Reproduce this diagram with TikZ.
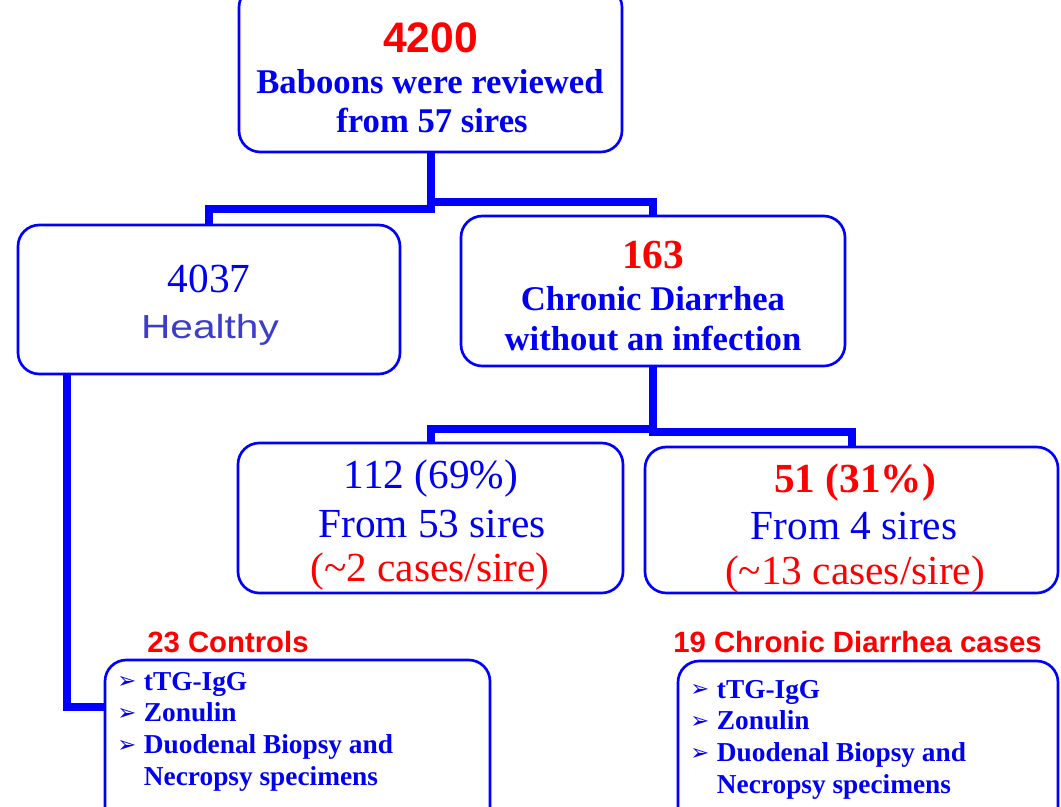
\documentclass[tikz,border=0pt]{standalone}
\usepackage{fontspec}
\setmainfont{Liberation Serif}
\setsansfont{Liberation Sans}
\newfontfamily\bulfont{DejaVu Sans}
\usetikzlibrary{positioning, calc}
\definecolor{boxblue}{RGB}{0,0,255}
\definecolor{textblue}{RGB}{0,0,240}
\definecolor{softblue}{RGB}{60,60,205}
\definecolor{hired}{RGB}{255,0,0}
\newcommand{\fsz}[1]{\fontsize{#1}{#1}\selectfont}
\newcommand{\lstitem}[1]{\makebox[20pt][l]{\raisebox{1pt}{\bulfont\fsz{17}➢}}#1}
\newcommand{\lstcont}[1]{\makebox[20pt][l]{}#1}
\tikzset{
	box/.style={draw=boxblue, line width=2pt, rounded corners=16pt, inner sep=0pt}, % rounded frames
	conn/.style={draw=boxblue, line width=6pt}, % thick tree lines
	txt/.style={anchor=base, inner sep=0pt, text=textblue}, % one line of text
	redtxt/.style={txt, text=hired},
	lst/.style={anchor=base west, inner sep=0pt, text=textblue, font=\bfseries\fsz{20.5}},
}

\begin{document}
\begin{tikzpicture}[x=0.75pt, y=-0.75pt]
	\useasboundingbox (0,0) rectangle (1061,807);

	% frames
	\node[box, minimum width=287.25pt, minimum height=124.5pt] (top) at (430.5,69) {};
	\node[box, minimum width=286.5pt, minimum height=111.75pt] (healthy) at (209,299.5) {};
	\node[box, minimum width=288pt, minimum height=112.5pt] (chronic) at (653,291) {};
	\node[box, minimum width=288.75pt, minimum height=112.5pt] (many_sires) at (430.5,518) {};
	\node[box, minimum width=309.75pt, minimum height=109.5pt] (few_sires) at (851.5,520) {};
	\node[box, minimum width=288.75pt, minimum height=135pt] (controls) at (297.5,750) {};
	\node[box, minimum width=285pt, minimum height=134.25pt] (cases) at (868,750.5) {};

	% tree lines
	\draw[conn] (top.south) -- ++(0,56) -| (healthy.north);
	\draw[conn] (top.south) -- ++(0,49) -| (chronic.north);
	\draw[conn] (chronic.south) -- ++(0,62) -| (many_sires.north);
	\draw[conn] (chronic.south) -- ++(0,65) -| (few_sires.north);
	\draw[conn] ($(healthy.south west)+(50,0)$) |- ($(controls.north west)+(0,48)$);

	% texts
	\node[redtxt, font=\sffamily\bfseries\fsz{32}] (top_num) at (430.5,52) {4200};
	\node[txt, font=\bfseries\fsz{26}] (top_l1) at (430,93) {Baboons were reviewed};
	\node[txt, font=\bfseries\fsz{26}] (top_l2) at (432,132) {from 57 sires};

	\node[txt, font=\fsz{31}] (healthy_num) at (209,292) {4037};
	\node[txt, text=softblue, font=\sffamily\fsz{25}] (healthy_l1) at (210,338) {\scalebox{1.22}[1]{Healthy}};

	\node[redtxt, font=\bfseries\fsz{31}] (chronic_num) at (653,268) {163};
	\node[txt, font=\bfseries\fsz{26}] (chronic_l1) at (653,310) {Chronic Diarrhea};
	\node[txt, font=\bfseries\fsz{26}] (chronic_l2) at (653,350) {without an infection};

	\node[txt, font=\fsz{31}] (many_l1) at (431,488) {112 (69\%)};
	\node[txt, font=\fsz{31}] (many_l2) at (432,537) {From 53 sires};
	\node[redtxt, font=\fsz{31}] (many_l3) at (430,581) {(\textasciitilde2 cases/sire)};

	\node[redtxt, font=\bfseries\fsz{31}] (few_l1) at (855,492) {51 (31\%)};
	\node[txt, font=\fsz{31}] (few_l2) at (854,539) {From 4 sires};
	\node[redtxt, font=\fsz{31}] (few_l3) at (855,584) {(\textasciitilde13 cases/sire)};

	% lists
	\node[redtxt, anchor=base west, font=\sffamily\bfseries\fsz{22}] (controls_title) at (147,652) {23 Controls};
	\node[redtxt, anchor=base west, font=\sffamily\bfseries\fsz{22}] (cases_title) at (673,652) {19 Chronic Diarrhea cases};
	\foreach \line [count=\i from 0] in {\lstitem{tTG-IgG}, \lstitem{Zonulin}, \lstitem{Duodenal Biopsy and}, \lstcont{Necropsy specimens}} {
		\node[lst] (controls_item\i) at (117,690+31.7*\i) {\line};
		\node[lst] (cases_item\i) at (690,698+31.7*\i) {\line};
	}
\end{tikzpicture}
\end{document}
